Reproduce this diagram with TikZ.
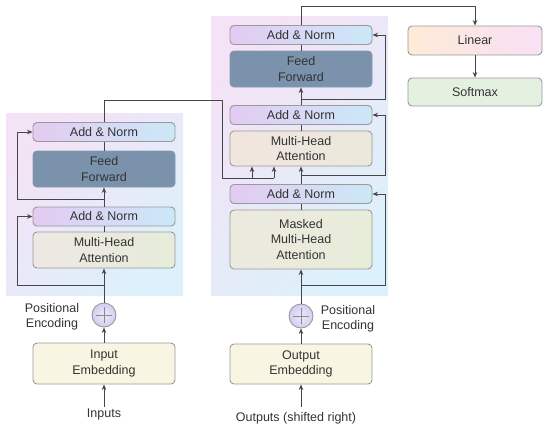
\documentclass[tikz,border=0pt]{standalone}
\usepackage{fontspec}
\setmainfont{Liberation Sans}
\usetikzlibrary{arrows.meta}
\definecolor{txt}{HTML}{333333}
\definecolor{ln}{HTML}{464646}
\definecolor{bd}{HTML}{9A9A9A}
\definecolor{anL}{HTML}{E3CBF1}
\definecolor{anR}{HTML}{CBE8F8}
\definecolor{ffC}{HTML}{7A92AC}
\definecolor{ffB}{HTML}{6A7E94}
\definecolor{mhaL}{HTML}{EEE8E2}
\definecolor{mhaR}{HTML}{E6ECDA}
\definecolor{dmhaL}{HTML}{F1E5DE}
\definecolor{dmhaR}{HTML}{EBE9DC}
\definecolor{mmL}{HTML}{ECE9DF}
\definecolor{mmR}{HTML}{E8EDDA}
\definecolor{bgA}{HTML}{F4E2F6}
\definecolor{bgB}{HTML}{DCF1FB}
\definecolor{linL}{HTML}{FDEBD6}
\definecolor{linR}{HTML}{F8E0F6}
\definecolor{smC}{HTML}{E5F1E0}
\definecolor{embC}{HTML}{F8F6E3}
\definecolor{peA}{HTML}{F0E8FA}
\definecolor{peB}{HTML}{CFCFF2}
\newcommand{\fs}{\fontsize{12.5}{15.5}\selectfont}
\tikzset{
  box/.style={draw=bd, line width=0.9pt, rounded corners=4pt, align=center, inner sep=0pt, text=txt, font=\fs},
  encw/.style={minimum width=142pt},
  addnorm/.style={box, encw, left color=anL, right color=anR, minimum height=19pt},
  ffbox/.style={box, encw, fill=ffC, draw=ffB!80, minimum height=36pt, text=black!80},
  embbox/.style={box, encw, fill=embC, minimum height=41pt},
  bgbox/.style={left color=bgA, right color=bgB, shading angle=45},
  conn/.style={draw=ln, line width=0.9pt},
  arr/.style={conn, -{Stealth[length=5.5pt,width=4.5pt]}},
  pe/.style={circle, draw=bd, line width=0.9pt, inner sep=0pt, minimum size=24pt, inner color=peA, outer color=peB},
  lbl/.style={align=center, text=txt, font=\fs, inner sep=1pt}
}
\begin{document}
\begin{tikzpicture}[x=1pt,y=-1pt]
\useasboundingbox (0,0) rectangle (550,432);
% backgrounds
\shade[bgbox] (6,113) rectangle (183,295);
\shade[bgbox] (211,16) rectangle (388,295);

% encoder
\node[addnorm] (eAN2) at (104,132) {Add \& Norm};
\node[ffbox] (eFF) at (104,169) {Feed\\Forward};
\node[addnorm] (eAN1) at (104,216.5) {Add \& Norm};
\node[box, encw, left color=mhaL, right color=mhaR, minimum height=36pt] (eMHA) at (104,250) {Multi-Head\\Attention};
\node[pe] (ePE) at (104,315) {};
\node[embbox] (eEmb) at (104,363.5) {Input\\Embedding};
\node[lbl] (inp) at (104,414) {Inputs};
\node[lbl] (ePEl) at (52,317) {Positional\\Encoding};

% decoder
\node[addnorm] (dAN3) at (301,35) {Add \& Norm};
\node[ffbox] (dFF) at (301,69) {Feed\\Forward};
\node[addnorm] (dAN2) at (301,115) {Add \& Norm};
\node[box, encw, left color=dmhaL, right color=dmhaR, minimum height=35pt] (dMHA) at (301,148.5) {Multi-Head\\Attention};
\node[addnorm] (dAN1) at (301,194) {Add \& Norm};
\node[box, encw, left color=mmL, right color=mmR, minimum height=59pt] (dMM) at (301,239.5) {Masked\\Multi-Head\\Attention};
\node[pe] (dPE) at (301,316) {};
\node[embbox, minimum height=40pt] (dEmb) at (301,364) {Output\\Embedding};
\node[lbl] (outp) at (296,418) {Outputs (shifted right)};
\node[lbl] (dPEl) at (348,319) {Positional\\Encoding};

% output head
\node[box, left color=linL, right color=linR, minimum width=134pt, minimum height=29pt] (lin) at (475,40.5) {Linear};
\node[box, fill=smC, minimum width=134pt, minimum height=28pt] (sm) at (475,92) {Softmax};

% plus signs
\foreach \c in {ePE,dPE}{
  \draw[draw=bd!90!black, line width=0.8pt] ([yshift=-8pt]\c.center) -- ([yshift=8pt]\c.center);
  \draw[draw=bd!90!black, line width=0.8pt] ([xshift=-8pt]\c.center) -- ([xshift=8pt]\c.center);
}

% coordinates
\coordinate (eR1) at (104,285);
\coordinate (eR1c) at (17,285);
\coordinate (eR2) at (104,199);
\coordinate (eR2c) at (17,199);
\coordinate (eOut) at (104,100);
\coordinate (eOutA) at (222,100);
\coordinate (eOutB) at (222,178);
\coordinate (kA) at (252,178);
\coordinate (kB) at (274,178);
\coordinate (dR1) at (301,285);
\coordinate (dR1c) at (385,285);
\coordinate (dR2) at (301,175);
\coordinate (dR2c) at (385,175);
\coordinate (dR3) at (301,99);
\coordinate (dR3c) at (385,99);
\coordinate (dOut) at (301,6);
\coordinate (dOutA) at (475,6);

% encoder connectors
\draw[arr] (inp.north) -- (eEmb.south);
\draw[arr] (eEmb.north) -- (ePE.south);
\draw[arr] (ePE.north) -- (eMHA.south);
\draw[arr] (eR1) -- (eR1c) |- (eAN1.west);
\draw[conn] (eMHA.north) -- (eAN1.south);
\draw[arr] (eAN1.north) -- (eFF.south);
\draw[arr] (eR2) -- (eR2c) |- (eAN2.west);
\draw[conn] (eFF.north) -- (eAN2.south);
\draw[conn] (eAN2.north) -- (eOut) -- (eOutA) -- (eOutB) -- (kB);
\draw[arr] (kA) -- (kA |- dMHA.south);
\draw[arr] (kB) -- (kB |- dMHA.south);

% decoder connectors
\draw[arr] (dEmb.south |- inp.north) -- (dEmb.south);
\draw[arr] (dEmb.north) -- (dPE.south);
\draw[arr] (dPE.north) -- (dMM.south);
\draw[arr] (dR1) -- (dR1c) |- (dAN1.east);
\draw[conn] (dMM.north) -- (dAN1.south);
\draw[arr] (dAN1.north) -- (dMHA.south);
\draw[arr] (dR2) -- (dR2c) |- (dAN2.east);
\draw[conn] (dMHA.north) -- (dAN2.south);
\draw[arr] (dAN2.north) -- (dFF.south);
\draw[arr] (dR3) -- (dR3c) |- (dAN3.east);
\draw[conn] (dFF.north) -- (dAN3.south);
\draw[arr] (dAN3.north) -- (dOut) -- (dOutA) -- (lin.north);
\draw[arr] (lin.south) -- (sm.north);
\end{tikzpicture}
\end{document}
